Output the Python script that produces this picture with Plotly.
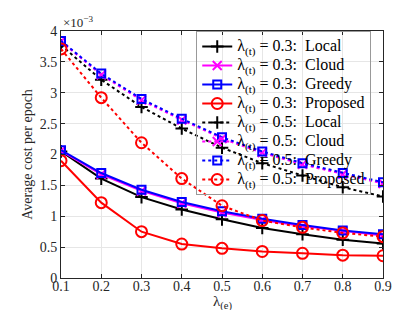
import plotly.graph_objects as go

lam_e = [0.1, 0.2, 0.3, 0.4, 0.5, 0.6, 0.7, 0.8, 0.9]

# values in units of 1e-3
local_03 = [2.05, 1.61, 1.31, 1.11, 0.95, 0.81, 0.71, 0.62, 0.56]
cloud_03 = [2.06, 1.68, 1.41, 1.21, 1.06, 0.94, 0.84, 0.76, 0.69]
greedy_03 = [2.07, 1.70, 1.43, 1.23, 1.08, 0.96, 0.86, 0.77, 0.71]
proposed_03 = [1.90, 1.22, 0.75, 0.55, 0.48, 0.43, 0.40, 0.37, 0.36]

local_05 = [3.77, 3.21, 2.77, 2.42, 2.11, 1.86, 1.66, 1.47, 1.32]
cloud_05 = [3.83, 3.29, 2.88, 2.56, 2.26, 2.03, 1.84, 1.68, 1.53]
greedy_05 = [3.84, 3.31, 2.90, 2.58, 2.28, 2.05, 1.86, 1.70, 1.55]
proposed_05 = [3.71, 2.92, 2.19, 1.61, 1.17, 0.93, 0.82, 0.73, 0.67]

y_ticks = [0, 0.5, 1, 1.5, 2, 2.5, 3, 3.5, 4]
y_tick_labels = ["0", "0.5", "1", "1.5", "2", "2.5", "3", "3.5", "4"]
x_ticks = lam_e

FONT = "Liberation Serif"

series = [
    ("0.3", "Local", local_03, "black", "cross-thin", "solid"),
    ("0.3", "Cloud", cloud_03, "magenta", "x-thin", "solid"),
    ("0.3", "Greedy", greedy_03, "blue", "square-open", "solid"),
    ("0.3", "Proposed", proposed_03, "red", "circle-open", "solid"),
    ("0.5", "Local", local_05, "black", "cross-thin", "dot"),
    ("0.5", "Cloud", cloud_05, "magenta", "x-thin", "dot"),
    ("0.5", "Greedy", greedy_05, "blue", "square-open", "dot"),
    ("0.5", "Proposed", proposed_05, "red", "circle-open", "dot"),
]

fig = go.Figure()
for lt, name, vals, col, sym, dash in series:
    msize = 11 if sym == "circle-open" else (8 if sym == "square-open" else 9)
    fig.add_trace(go.Scatter(
        x=lam_e, y=vals, mode="lines+markers",
        name=f'<span style="font-size:16px">λ<sub>(t)</sub> = {lt}:  {name}</span>',
        line=dict(color=col, width=2, dash=dash),
        marker=dict(symbol=sym, size=msize, color=col,
                    line=dict(color=col, width=2)),
    ))

fig.update_layout(
    width=414, height=310,
    margin=dict(l=53, r=39, t=23, b=40),
    plot_bgcolor="white", paper_bgcolor="white",
    font=dict(family=FONT, size=14, color="#262626"),
    showlegend=True,
    legend=dict(
        x=0.42, y=1.0, xanchor="left", yanchor="top",
        bgcolor="rgba(255,255,255,0)",
        bordercolor="#999999", borderwidth=1,
        font=dict(family=FONT, size=12, color="black"),
        tracegroupgap=0, itemwidth=30,
    ),
    xaxis=dict(
        range=[0.1, 0.9], tickvals=x_ticks,
        ticktext=[f"{v:.1f}" for v in x_ticks],
        showgrid=True, gridcolor="#e6e6e6", gridwidth=1,
        showline=True, linecolor="#262626", linewidth=1, mirror="ticks",
        ticks="inside", ticklen=4, tickcolor="#262626",
        ticklabelstandoff=-5,
        zeroline=False,
    ),
    yaxis=dict(
        range=[0, 4], tickvals=y_ticks, ticktext=y_tick_labels,
        showgrid=True, gridcolor="#e6e6e6", gridwidth=1,
        showline=True, linecolor="#262626", linewidth=1, mirror="ticks",
        ticks="inside", ticklen=4, tickcolor="#262626",
        zeroline=False,
        title=dict(text="Average cost per epoch", font=dict(family=FONT, size=14), standoff=3),
    ),
)

fig.add_annotation(
    x=0.5, y=0, xref="paper", yref="paper", xanchor="center", yanchor="top",
    text="λ<sub>(e)</sub>", showarrow=False,
    font=dict(family=FONT, size=15, color="#262626"), yshift=-13,
)

fig.add_annotation(
    x=0, y=1, xref="paper", yref="paper", xanchor="left", yanchor="bottom",
    text="×10<sup>−3</sup>", showarrow=False,
    font=dict(family=FONT, size=13, color="#262626"), yshift=-1,
)

fig.write_html("out.html")
